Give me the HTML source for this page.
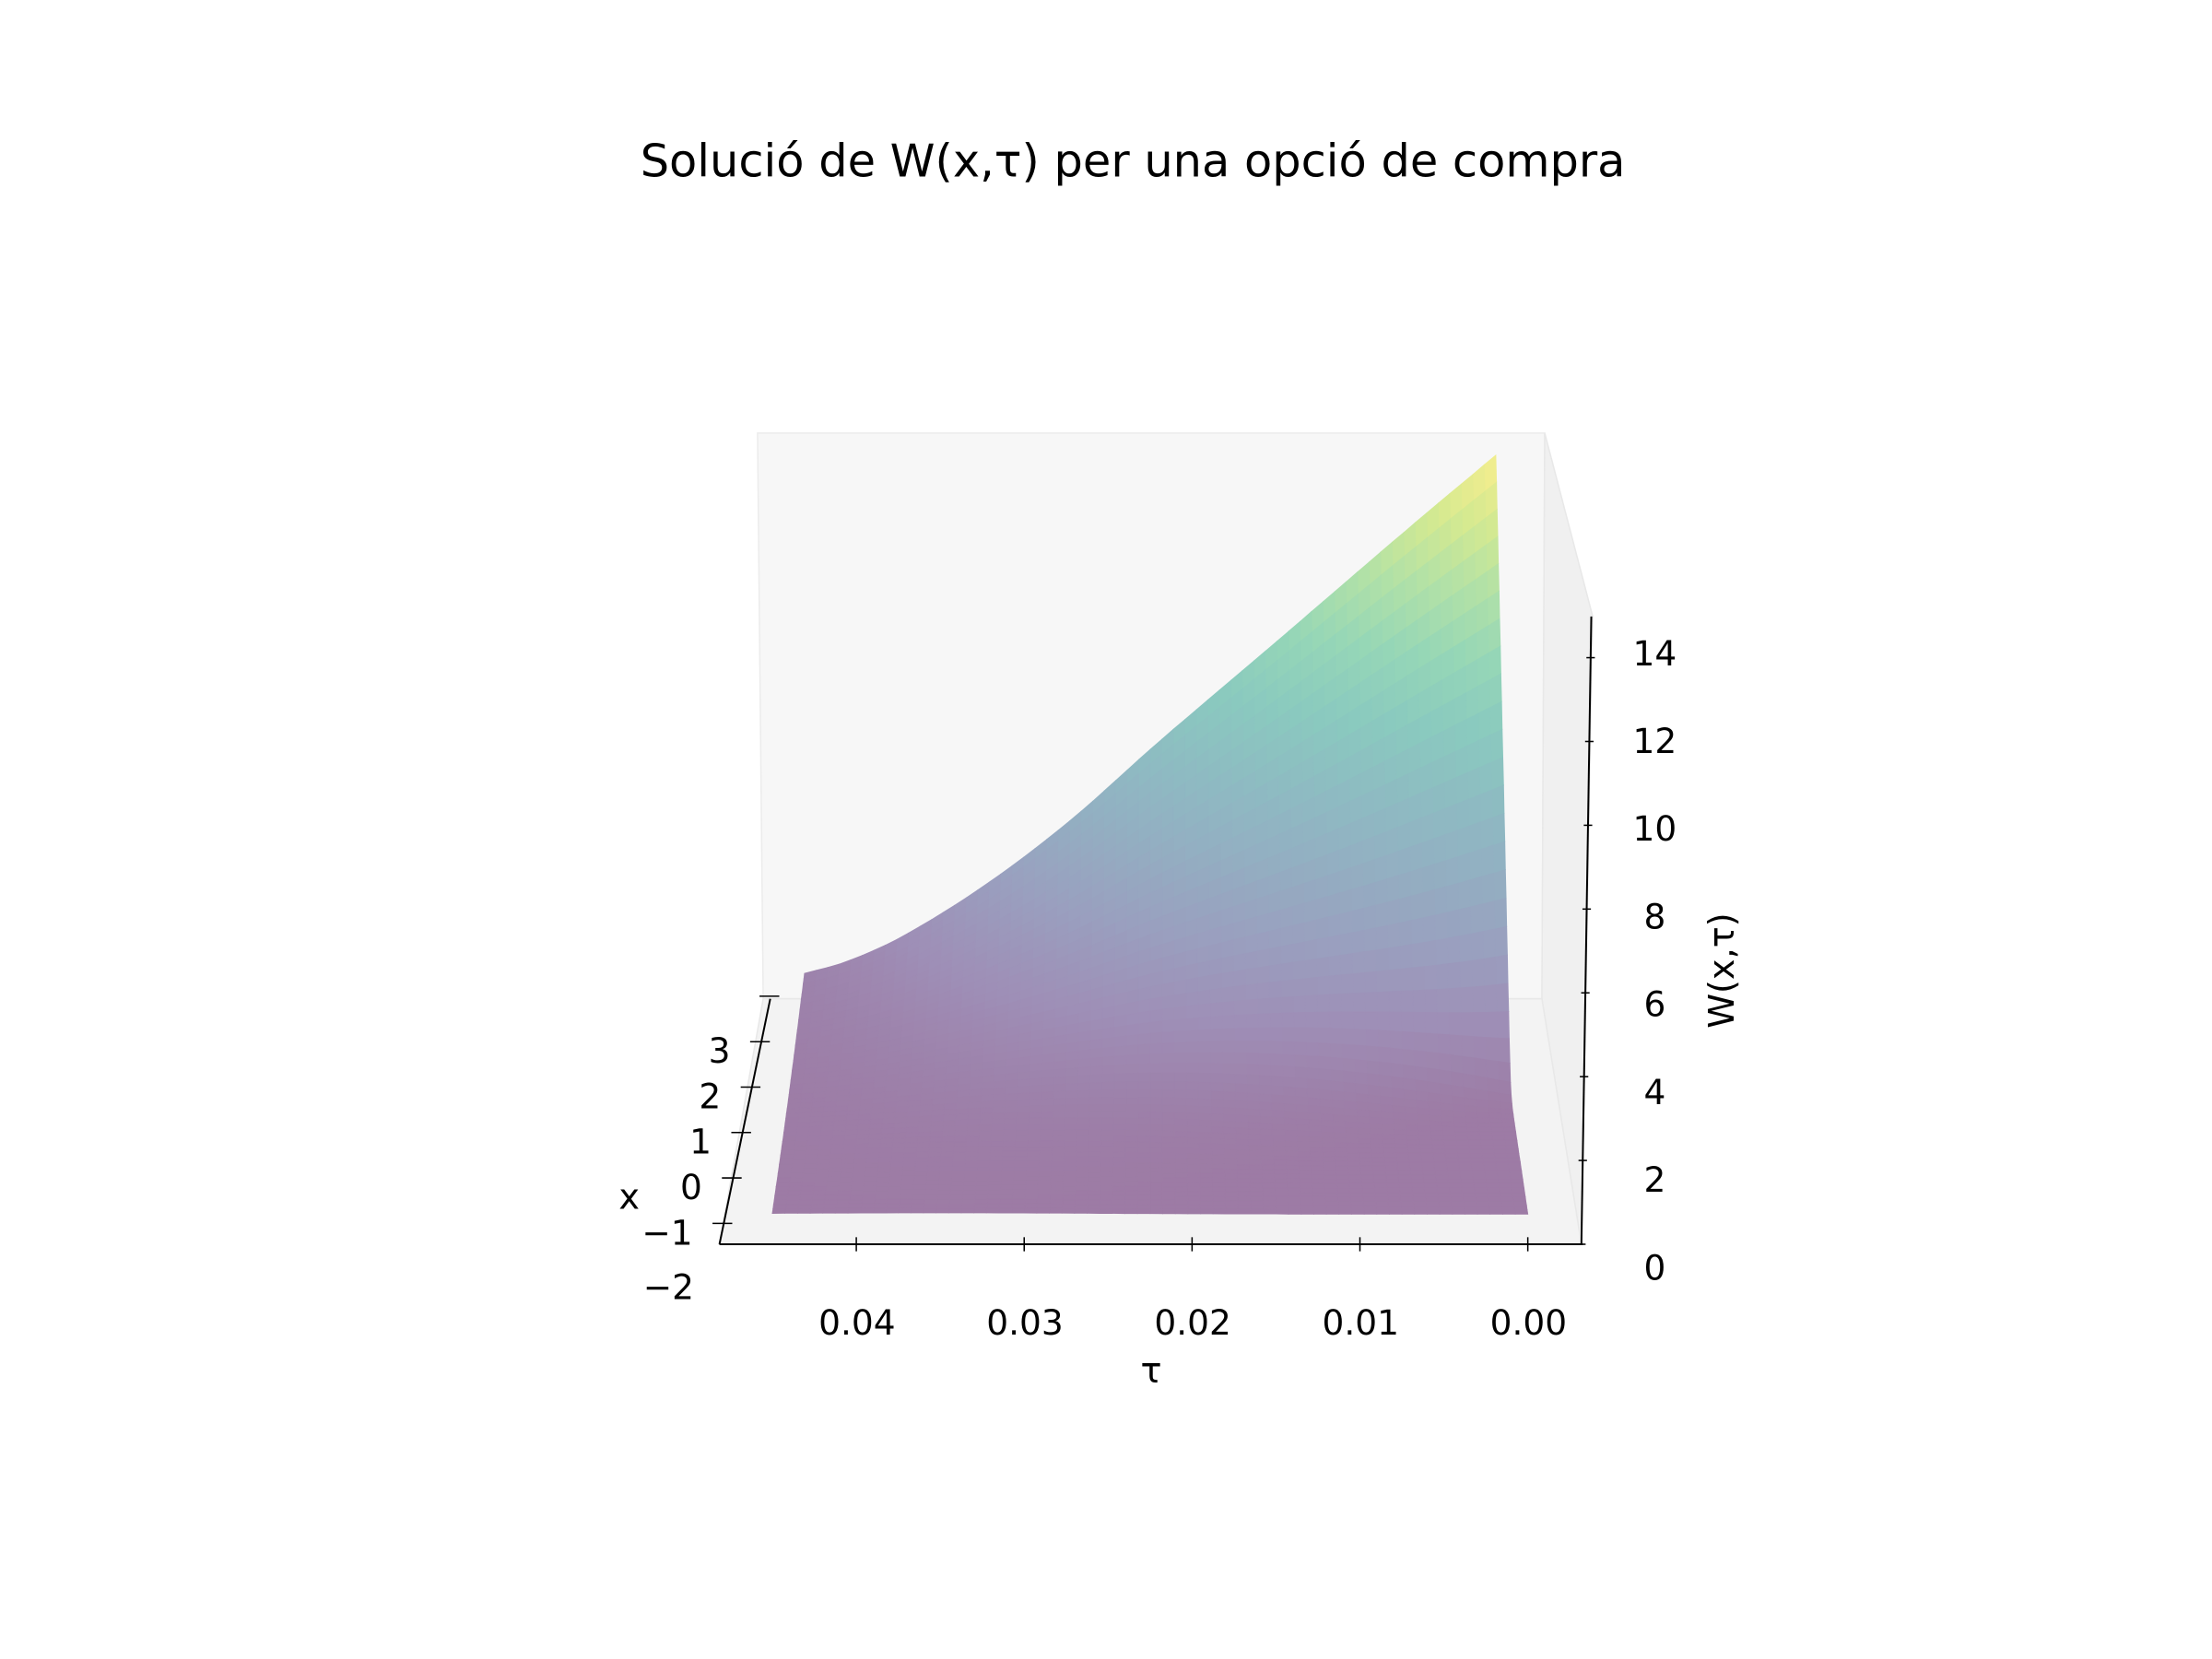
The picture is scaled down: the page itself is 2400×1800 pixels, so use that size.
<!DOCTYPE html>
<html><head><meta charset="utf-8"><style>
html,body{margin:0;padding:0;background:#fff;}
svg{display:block;font-family:"DejaVu Sans","Liberation Sans",sans-serif;}
</style></head><body>
<svg id="chart" width="2400" height="1800" viewBox="0 0 1568 1176" xmlns="http://www.w3.org/2000/svg">
<rect width="1568" height="1176" fill="#fff"/>
<text x="803" y="125" font-size="32.3" text-anchor="middle" fill="#000">Solució de W(x,τ) per una opció de compra</text>
<polygon points="537,307 1095,307 1093,708 541,708" fill="#f7f7f7" stroke="#ececec" stroke-width="1"/>
<polygon points="1095,307 1129,437 1121,882 1093,708" fill="#f0f0f0" stroke="#e8e8e8" stroke-width="1"/>
<polygon points="541,708 1093,708 1121,882 510,882" fill="#f3f3f3" stroke="#e8e8e8" stroke-width="1"/>
<g id="surface"></g>
<g id="axes"></g>
</svg>
<script>
// data
const tauSamples = [0, 0.0055, 0.0147, 0.0221, 0.0276, 0.0331, 0.0386, 0.0423, 0.045];
const wAtTopEdge = [14.0, 12.17, 9.04, 6.54, 4.6, 2.94, 1.58, 0.92, 0.62];
const tauTicks = [0.04, 0.03, 0.02, 0.01, 0.00];
const tauTickLabels = ["0.04", "0.03", "0.02", "0.01", "0.00"];
const xTicks = [-1, 0, 1, 2, 3, 4];
const xTickLabels = ["−1", "0", "1", "2", "3", ""];
const zTicks = [0, 2, 4, 6, 8, 10, 12, 14];
const zTickLabels = ["0", "2", "4", "6", "8", "10", "12", "14"];
const xMin = -0.8, xMax = 4.0, tauMax = 0.045, strikeX = 1.8;

const NS = "http://www.w3.org/2000/svg";
function mk(tag, attrs, parent){const e=document.createElementNS(NS,tag);for(const k in attrs)e.setAttribute(k,attrs[k]);parent.appendChild(e);return e;}

// axis functions
const cx = 816;
function tauScreen(t){return 1083 - t*11900;}
function depth(x){return (x - xMin)/(xMax - xMin);}
function kf(x){return 1 - 0.085*depth(x);}
function floorY(x){return 835 - 32*x;}
function project(t, x, w){
  const k = kf(x);
  return [cx + (tauScreen(t) - cx)*k, floorY(x) - w*30*k];
}
function wTop(t){
  const n=tauSamples.length;
  for(let i=0;i<n-1;i++){
    if(t<=tauSamples[i+1]||i===n-2){
      const h=tauSamples[i+1]-tauSamples[i];
      const f=Math.max(0,Math.min(1,(t-tauSamples[i])/h));
      const slope=(a,b)=>(wAtTopEdge[b]-wAtTopEdge[a])/(tauSamples[b]-tauSamples[a]);
      const m1=i>0?slope(i-1,i+1):slope(i,i+1);
      const m2=i<n-2?slope(i,i+2):slope(i,i+1);
      const p1=wAtTopEdge[i],p2=wAtTopEdge[i+1];
      const h00=2*f*f*f-3*f*f+1,h10=f*f*f-2*f*f+f,h01=-2*f*f*f+3*f*f,h11=f*f*f-f*f;
      return h00*p1+h10*h*m1+h01*p2+h11*h*m2;
    }
  }
}
function W(t, x){
  const wt = wTop(t);
  const s = 0.04 + t*9;
  const u = (x - strikeX)/(xMax - strikeX);
  const sp = s*Math.log(1+Math.exp(u/s));
  const sp4 = s*Math.log(1+Math.exp(1/s));
  return wt*Math.max(0, sp/sp4);
}
const vir=[[68,1,84],[72,40,120],[62,74,137],[49,104,142],[38,130,142],[31,158,137],[53,183,121],[109,205,89],[180,222,44],[253,231,37]];
function color(w){
  let v=Math.max(0,Math.min(1,w/14))*(vir.length-1);const i=Math.min(vir.length-2,Math.floor(v)),f=v-i;
  const c=vir[i].map((a,j)=>a+f*(vir[i+1][j]-a));
  const bg=[245,245,245];
  return "rgb("+c.map((a,j)=>Math.round(a*0.5+bg[j]*0.5)).join(",")+")";
}
// surface
const surf=document.getElementById("surface");
const NT=60, NX=50;
for(let j=NX-1;j>=0;j--){
  const x0=xMin+(xMax-xMin)*j/NX, x1=xMin+(xMax-xMin)*(j+1)/NX;
  for(let i=0;i<NT;i++){
    const t0=tauMax*i/NT, t1=tauMax*(i+1)/NT;
    const pts=[project(t0,x0,W(t0,x0)),project(t1,x0,W(t1,x0)),project(t1,x1,W(t1,x1)),project(t0,x1,W(t0,x1))];
    const wm=(W(t0,x0)+W(t1,x0)+W(t1,x1)+W(t0,x1))/4;
    const col=color(wm);
    const p=mk("polygon",{points:pts.map(p=>p[0].toFixed(1)+","+p[1].toFixed(1)).join(" "),fill:col,stroke:col,"stroke-width":"0.6"},surf);
    
    
  }
}
// axes
const ax=document.getElementById("axes");
let l;
l=mk("line",{x1:510,y1:882,x2:1122,y2:882,stroke:"#000","stroke-width":1.3},ax);


tauTicks.forEach((t,i)=>{
  const X=tauScreen(t);
  const tk=mk("line",{x1:X,y1:877,x2:X,y2:887,stroke:"#000","stroke-width":1},ax);
  
  
  const tx=mk("text",{x:X+0.5,y:946,"font-size":24.5,"text-anchor":"middle",fill:"#000"},ax);
  tx.textContent=tauTickLabels[i];
  
  
});
const tl=mk("text",{x:816,y:980,"font-size":25,"text-anchor":"middle",fill:"#000"},ax);
tl.textContent="τ";


// x axis
function xAxisY(x){return 835 - 32.2*x;}
function xAxisX(y){return 510 + (882-y)*0.207;}
l=mk("line",{x1:510,y1:882,x2:546,y2:708,stroke:"#000","stroke-width":1.3},ax);


xTicks.forEach((v,i)=>{
  const y=xAxisY(v), X=xAxisX(y);
  const tk=mk("line",{x1:X-8,y1:y,x2:X+6,y2:y,stroke:"#000","stroke-width":1},ax);
  
  
  if(xTickLabels[i]){
    const tx=mk("text",{x:X-22,y:y+15,"font-size":24.5,"text-anchor":"end",fill:"#000"},ax);
    tx.textContent=xTickLabels[i];
    
    
  }
});
let m2=mk("text",{x:492,y:921,"font-size":24.5,"text-anchor":"end",fill:"#000"},ax);
m2.textContent="−2";


const xl=mk("text",{x:446,y:857,"font-size":25,"text-anchor":"middle",fill:"#000"},ax);
xl.textContent="x";


// z axis
function zTickY(v){return 882 - v*29.7;}
function zLabelY(v){return 907 - v*31.1;}
function zAxisX(y){return 1121 + (882-y)/445*7;}
l=mk("line",{x1:1121,y1:882,x2:1128,y2:437,stroke:"#000","stroke-width":1.3},ax);


zTicks.forEach((v,i)=>{
  const y=zTickY(v), X=zAxisX(y);
  const tk=mk("line",{x1:X-3,y1:y,x2:X+3,y2:y,stroke:"#000","stroke-width":1},ax);
  
  
  const tx=mk("text",{x:1173,y:zLabelY(v),"font-size":24.5,"text-anchor":"middle",fill:"#000"},ax);
  tx.textContent=zTickLabels[i];
  
  
});
const zl=mk("text",{x:0,y:0,"font-size":25,"text-anchor":"middle",fill:"#000",transform:"translate(1229,688) rotate(-90)"},ax);
zl.textContent="W(x,τ)";


</script>
</body></html>
